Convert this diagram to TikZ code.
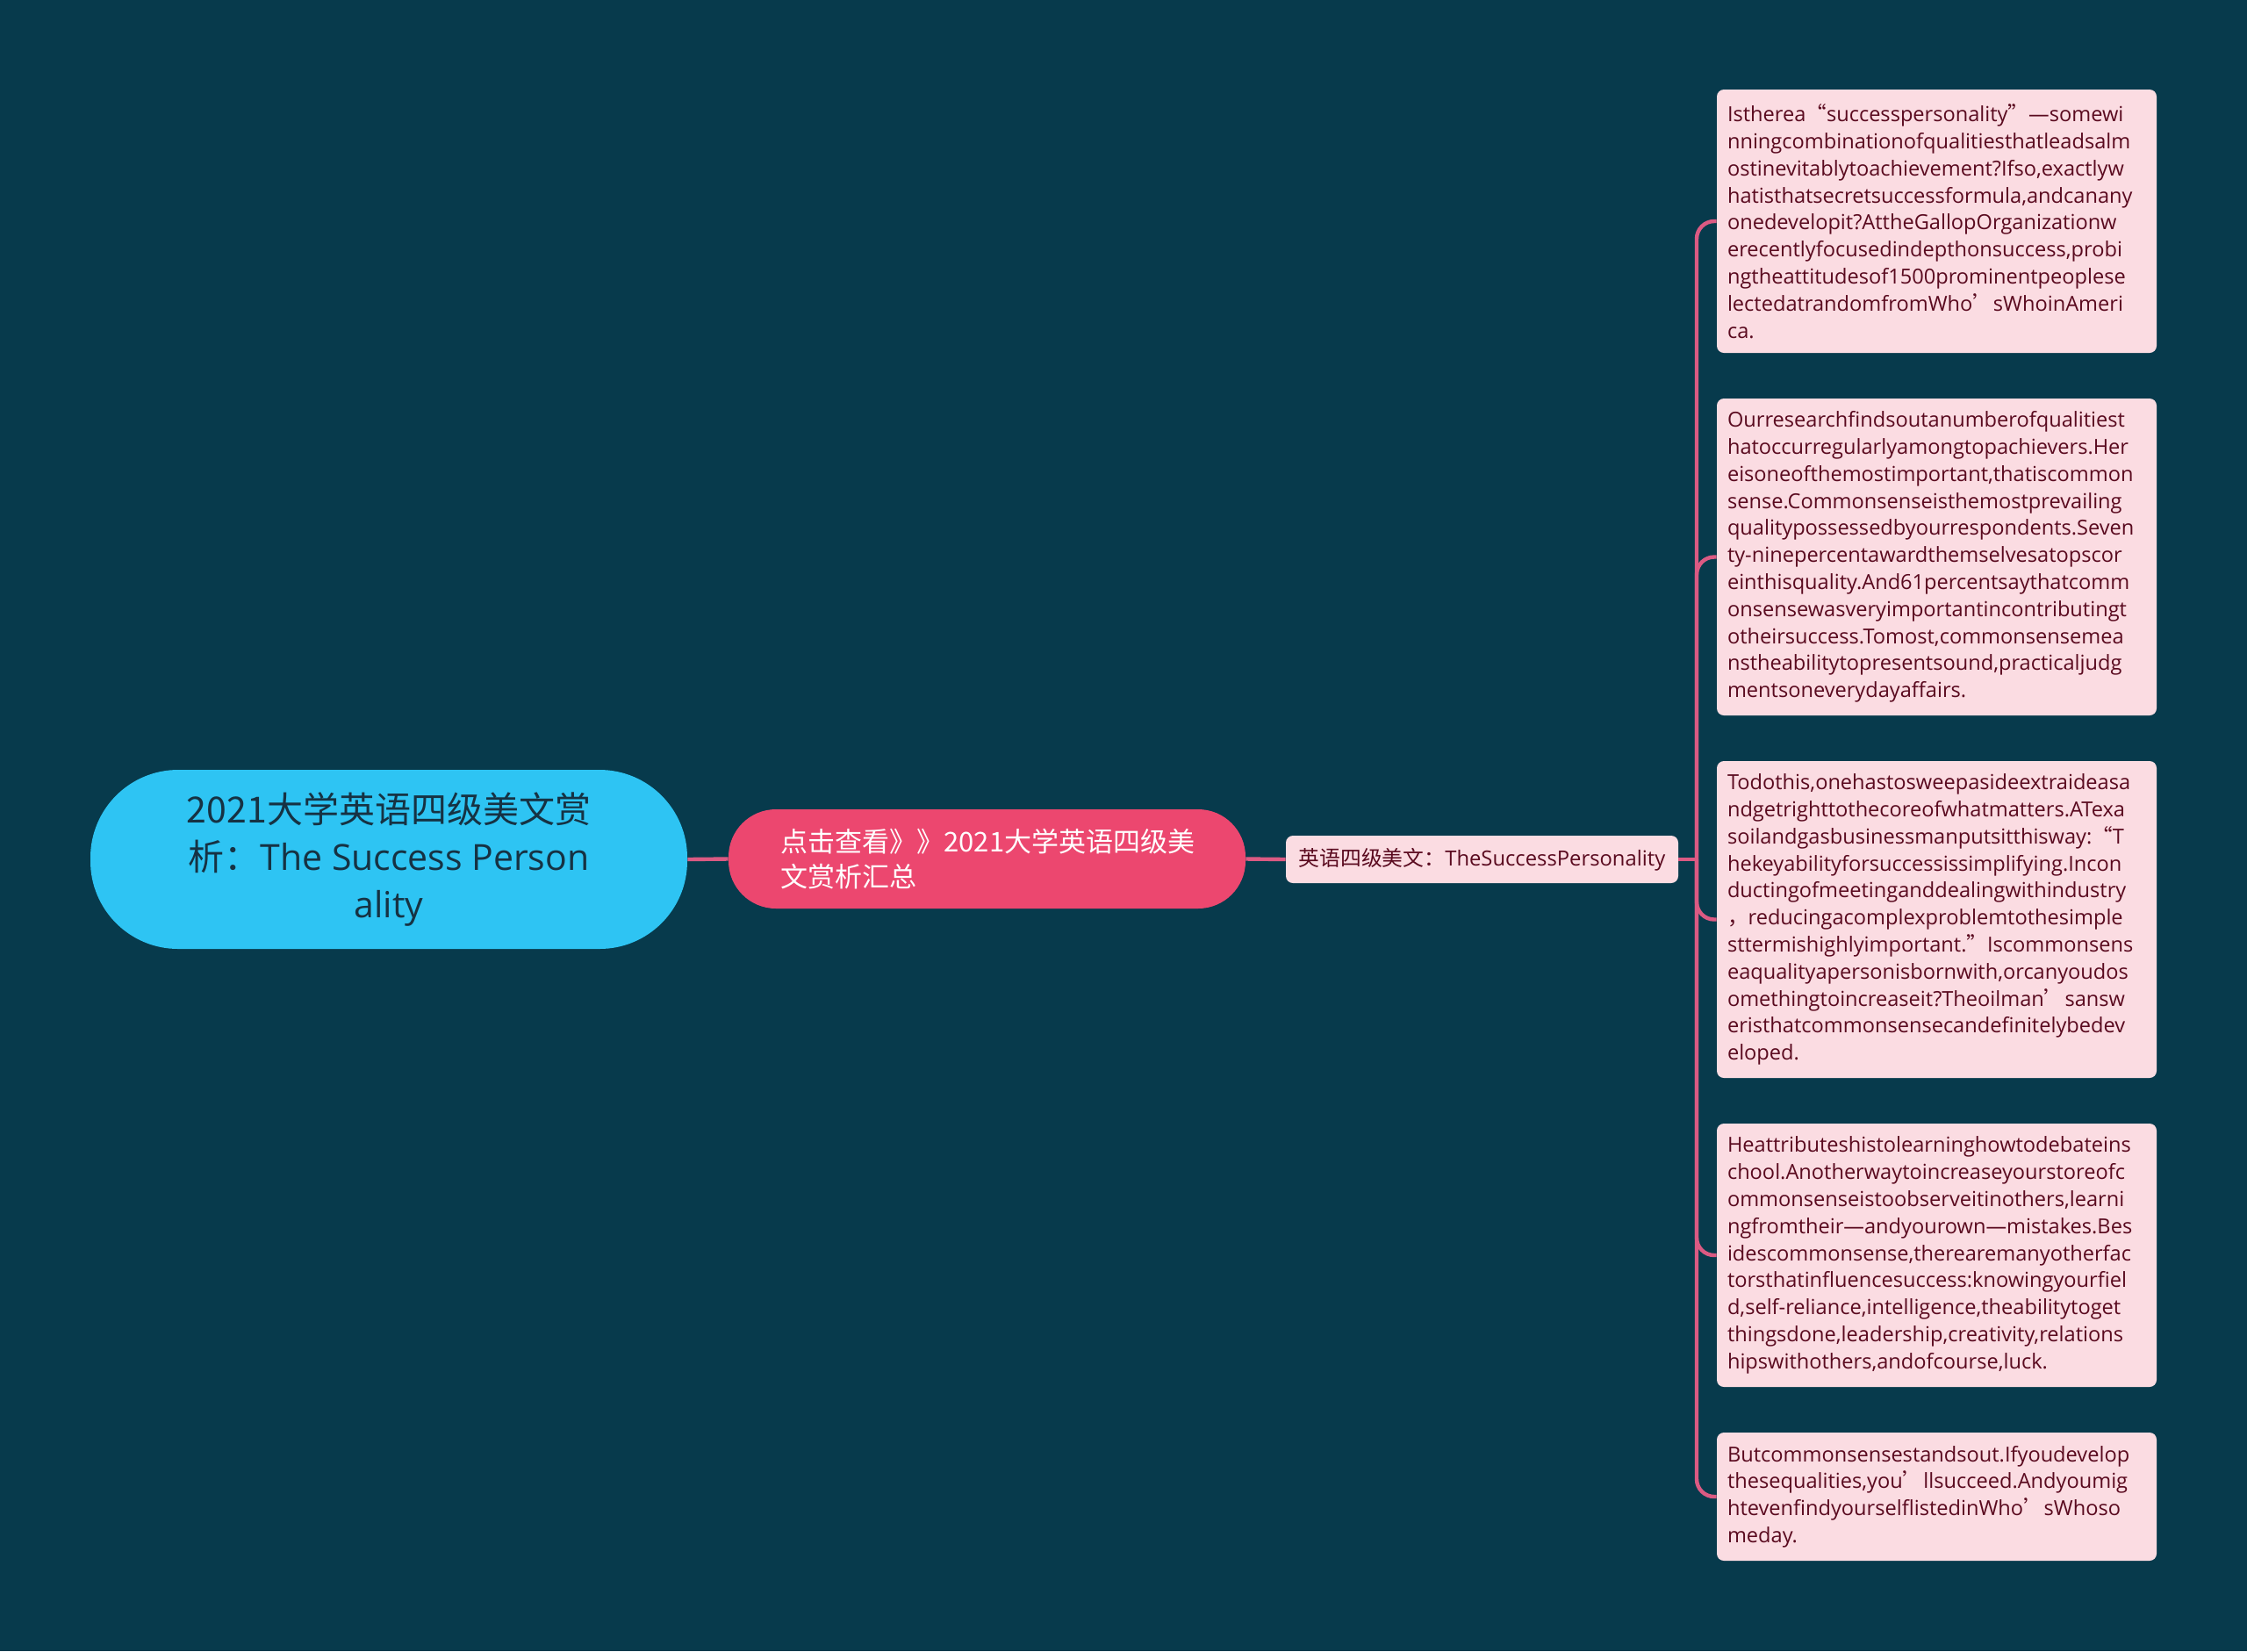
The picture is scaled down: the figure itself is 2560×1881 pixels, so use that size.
\documentclass[tikz,border=0pt]{standalone}
\usepackage{fontspec}
\setmainfont{Open Sans}
\newfontfamily\cjk{Noto Sans CJK SC}
\newcommand\q[1]{{\cjk #1}}
\definecolor{bgc}{HTML}{073A4C}
\definecolor{rootc}{HTML}{2EC4F3}
\definecolor{secc}{HTML}{EC476F}
\definecolor{leafc}{HTML}{FBDCE2}
\definecolor{linec}{HTML}{DB5A83}
\definecolor{leaft}{HTML}{5A0A1F}
\definecolor{roott}{HTML}{163243}
\tikzset{
  rootbox/.style={fill=rootc, rounded corners=50pt, minimum width=340pt, minimum height=102pt,
    inner sep=0pt, align=center, text=roott, font=\fontsize{20.5}{27}\selectfont},
  secbox/.style={fill=secc, rounded corners=27pt, minimum width=294.5pt, minimum height=56.5pt,
    inner sep=0pt, text width=235pt, align=left, text=white, font=\fontsize{15.5}{19.6}\selectfont},
  midbox/.style={fill=leafc, rounded corners=4pt, minimum width=223.5pt, minimum height=27pt,
    inner sep=0pt, align=center, text=leaft, font=\fontsize{11.9}{15.4}\selectfont},
  leafbox/.style={fill=leafc, rounded corners=4pt, minimum width=250.5pt, inner xsep=6pt, inner ysep=0pt,
    text width=238.5pt, align=left, text=leaft, font=\fontsize{11.8}{15.4}\selectfont},
  conn/.style={draw=linec, line width=2.2pt}
}
\begin{document}
\begin{tikzpicture}[x=0.5pt, y=-0.5pt]
\fill[bgc] (0,0) rectangle (2560,1881);
\useasboundingbox (0,0) rectangle (2560,1881);

\node[rootbox] (root) at (443,979) {\q{2021大学英语四级美文赏}\\\q{析：}The Success Person\\ality};
\node[secbox] (sec) at (1124.5,978.5) {\q{点击查看》》2021大学英语四级美}\\\q{文赏析汇总}};
\node[midbox] (mid) at (1688.5,979) {\q{英语四级美文：}TheSuccessPersonality};

\node[leafbox, minimum height=150pt] (l1) at (2206.5,252) {Istherea\q{“}successpersonality\q{”}—somewi\\
nningcombinationofqualitiesthatleadsalm\\
ostinevitablytoachievement?Ifso,exactlyw\\
hatisthatsecretsuccessformula,andcanany\\
onedevelopit?AttheGallopOrganizationw\\
erecentlyfocusedindepthonsuccess,probi\\
ngtheattitudesof1500prominentpeoplese\\
lectedatrandomfromWho\q{’}sWhoinAmeri\\
ca.};

\node[leafbox, minimum height=180.5pt] (l2) at (2206.5,634.5) {Ourresearchfindsoutanumberofqualitiest\\
hatoccurregularlyamongtopachievers.Her\\
eisoneofthemostimportant,thatiscommon\\
sense.Commonsenseisthemostprevailing\\
qualitypossessedbyourrespondents.Seven\\
ty-ninepercentawardthemselvesatopscor\\
einthisquality.And61percentsaythatcomm\\
onsensewasveryimportantincontributingt\\
otheirsuccess.Tomost,commonsensemea\\
nstheabilitytopresentsound,practicaljudg\\
mentsoneverydayaffairs.};

\node[leafbox, minimum height=180.5pt] (l3) at (2206.5,1047.5) {Todothis,onehastosweepasideextraideasa\\
ndgetrighttothecoreofwhatmatters.ATexa\\
soilandgasbusinessmanputsitthisway:\q{“}T\\
hekeyabilityforsuccessissimplifying.Incon\\
ductingofmeetinganddealingwithindustry\\
\q{，}reducingacomplexproblemtothesimple\\
sttermishighlyimportant.\q{”}Iscommonsens\\
eaqualityapersonisbornwith,orcanyoudos\\
omethingtoincreaseit?Theoilman\q{’}sansw\\
eristhatcommonsensecandefinitelybedev\\
eloped.};

\node[leafbox, minimum height=150pt] (l4) at (2206.5,1430) {Heattributeshistolearninghowtodebateins\\
chool.Anotherwaytoincreaseyourstoreofc\\
ommonsenseistoobserveitinothers,learni\\
ngfromtheir—andyourown—mistakes.Bes\\
idescommonsense,therearemanyotherfac\\
torsthatinfluencesuccess:knowingyourfiel\\
d,self-reliance,intelligence,theabilitytoget\\
thingsdone,leadership,creativity,relations\\
hipswithothers,andofcourse,luck.};

\node[leafbox, minimum height=73pt] (l5) at (2206.5,1705) {Butcommonsensestandsout.Ifyoudevelop\\
thesequalities,you\q{’}llsucceed.Andyoumig\\
htevenfindyourselflistedinWho\q{’}sWhoso\\
meday.};

\coordinate (trunk) at (1933,979);
\draw[conn] (root.east) -- (sec.west);
\draw[conn] (sec.east) -- (mid.west);
\draw[conn] (mid.east) -- (trunk);
\foreach \n in {l1,l2,l3,l4,l5}{
  \draw[conn, rounded corners=10pt] (trunk) |- (\n.west);
}
\end{tikzpicture}
\end{document}
